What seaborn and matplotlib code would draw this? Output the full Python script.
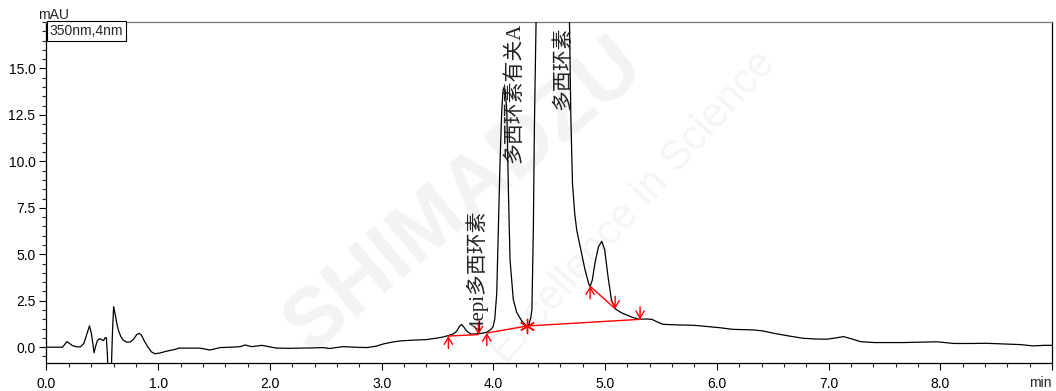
import matplotlib
matplotlib.use("Agg")
import matplotlib.pyplot as plt
import numpy as np
import pandas as pd
import seaborn as sns
from matplotlib.ticker import MultipleLocator, FixedLocator

# ---------------- data ----------------
time_min = [0.00, 0.05, 0.143, 0.163, 0.183, 0.203, 0.233, 0.274, 0.304, 0.334,
            0.364, 0.385, 0.40, 0.415, 0.425, 0.44, 0.455, 0.475, 0.496, 0.511,
            0.526, 0.536, 0.546, 0.556, 0.571, 0.584, 0.591, 0.601, 0.617, 0.632,
            0.647, 0.667, 0.687, 0.718, 0.748, 0.778, 0.808, 0.829, 0.849, 0.879,
            0.909, 0.939, 0.970, 1.010, 1.071, 1.151, 1.182, 1.282, 1.373, 1.464,
            1.555, 1.646, 1.737, 1.777, 1.838, 1.928, 2.059, 2.170, 2.271, 2.372,
            2.473, 2.534, 2.655, 2.756, 2.867, 2.947, 3.018, 3.099, 3.169, 3.280,
            3.401, 3.482, 3.543, 3.593, 3.644, 3.674, 3.694, 3.714, 3.734, 3.754,
            3.775, 3.805, 3.845, 3.886, 3.941, 3.976, 3.997, 4.012, 4.030, 4.045,
            4.060, 4.075, 4.086, 4.096, 4.106, 4.120, 4.135, 4.149, 4.178, 4.209,
            4.254, 4.299, 4.319, 4.335, 4.345, 4.358, 4.367, 4.382, 4.41, 4.46,
            4.51, 4.57, 4.63, 4.681, 4.693, 4.708, 4.728, 4.746, 4.774, 4.794,
            4.819, 4.837, 4.854, 4.866, 4.885, 4.910, 4.940, 4.970, 4.996, 5.026,
            5.056, 5.090, 5.147, 5.197, 5.248, 5.308, 5.359, 5.419, 5.470, 5.520,
            5.651, 5.793, 5.904, 6.025, 6.146, 6.327, 6.408, 6.509, 6.630, 6.771,
            6.892, 6.983, 7.064, 7.134, 7.205, 7.286, 7.407, 7.538, 7.669, 7.821,
            7.972, 8.123, 8.275, 8.416, 8.577, 8.719, 8.830, 8.930, 9.00]
signal_mau = [0.00, 0.00, 0.00, 0.15, 0.30, 0.22, 0.08, 0.02, 0.02, 0.20,
              0.75, 1.15, 0.80, 0.20, -0.30, 0.05, 0.35, 0.46, 0.40, 0.36,
              0.52, 0.50, -0.50, -3.0, -3.0, -0.50, 0.90, 2.18, 1.70, 1.20,
              0.85, 0.55, 0.38, 0.27, 0.28, 0.42, 0.68, 0.75, 0.65, 0.30,
              0.00, -0.25, -0.35, -0.32, -0.22, -0.12, -0.05, -0.05, -0.05, -0.15,
              -0.02, 0.00, 0.03, 0.12, 0.03, 0.10, -0.05, -0.06, -0.05, -0.04,
              -0.02, -0.07, 0.03, 0.00, -0.02, 0.05, 0.18, 0.28, 0.34, 0.38,
              0.41, 0.48, 0.54, 0.62, 0.72, 0.88, 1.10, 1.22, 1.10, 0.92,
              0.80, 0.70, 0.72, 0.74, 0.80, 0.95, 1.10, 1.50, 2.90, 6.50,
              10.07, 12.75, 13.80, 14.00, 13.80, 12.75, 8.30, 4.70, 2.57, 1.87,
              1.41, 1.14, 1.25, 1.60, 2.03, 6.50, 11.85, 17.50, 35.0, 55.0,
              60.0, 50.0, 32.0, 17.50, 12.50, 8.80, 7.20, 6.30, 5.50, 4.90,
              4.20, 3.80, 3.40, 3.28, 3.60, 4.55, 5.40, 5.70, 5.25, 3.80,
              2.57, 2.07, 1.85, 1.72, 1.60, 1.50, 1.52, 1.50, 1.35, 1.23,
              1.20, 1.18, 1.12, 1.05, 0.96, 0.93, 0.88, 0.75, 0.62, 0.48,
              0.44, 0.43, 0.50, 0.57, 0.45, 0.30, 0.25, 0.25, 0.25, 0.27,
              0.29, 0.20, 0.20, 0.21, 0.17, 0.14, 0.07, 0.10, 0.10]

# integration baselines (red)
base_seg1_t = [3.597, 3.866]
base_seg1_y = [0.60, 0.68]
base_seg2_t = [3.941, 4.299, 5.313]
base_seg2_y = [0.76, 1.14, 1.50]
base_seg3_t = [4.866, 5.090]
base_seg3_y = [3.28, 2.07]

peak_start_t = [3.597, 3.941, 4.866]
peak_start_y = [0.60, 0.76, 3.28]
peak_end_t = [3.866, 5.090, 5.313]
peak_end_y = [0.68, 2.07, 1.50]
shared_t = [4.299]
shared_y = [1.14]

peak_names = ["4epi多西环素", "多西环素有关A", "多西环素"]
label_t = [3.854, 4.19, 4.633]
label_y = [0.93, 9.9, 12.76]

x_major = [0, 1, 2, 3, 4, 5, 6, 7, 8, 9]
x_labels = ["0.0", "1.0", "2.0", "3.0", "4.0", "5.0", "6.0", "7.0", "8.0", ""]
y_major = [0.0, 2.5, 5.0, 7.5, 10.0, 12.5, 15.0]
y_labels = ["0.0", "2.5", "5.0", "7.5", "10.0", "12.5", "15.0"]

# ---------------- style ----------------
sns.set_theme(style="ticks")
plt.rcParams["font.family"] = ["Liberation Sans", "Noto Sans CJK SC", "DejaVu Sans"]

fig = plt.figure(figsize=(10.56, 3.91), dpi=100, facecolor="white")
ax = fig.add_axes([0.04403, 0.07161, 0.95218, 0.87212])
ax.patch.set_alpha(0.0)

# faint watermark behind the axes
fig.text(0.44, 0.50, "SHIMADZU", fontsize=60, fontweight="bold", color="#f3f3f3",
         rotation=40, ha="center", va="center", zorder=-5)
fig.text(0.60, 0.47, "Excellence in Science", fontsize=30, color="#f5f5f5",
         rotation=48, ha="center", va="center", zorder=-5)

df = pd.DataFrame({"t": time_min, "mAU": signal_mau})
sns.lineplot(data=df, x="t", y="mAU", ax=ax, color="black", lw=0.9,
             estimator=None, sort=False, zorder=3)

for st, sy in [(base_seg1_t, base_seg1_y), (base_seg2_t, base_seg2_y), (base_seg3_t, base_seg3_y)]:
    sns.lineplot(x=st, y=sy, ax=ax, color="red", lw=1.0, estimator=None, sort=False, zorder=4)

arrow_kw = dict(arrowstyle="->,head_length=0.5,head_width=0.3", color="red", lw=1.0,
                shrinkA=0, shrinkB=0, mutation_scale=10)
for t, y in zip(peak_start_t, peak_start_y):
    ax.annotate("", xy=(t, y), xytext=(0, -9), textcoords="offset points",
                arrowprops=arrow_kw, zorder=5)
for t, y in zip(peak_end_t, peak_end_y):
    ax.annotate("", xy=(t, y), xytext=(0, 9), textcoords="offset points",
                arrowprops=arrow_kw, zorder=5)
ax.plot(shared_t, shared_y, marker=(6, 2, 0), ms=11, mew=1.0, color="red",
        ls="none", zorder=5)

for name, t, y in zip(peak_names, label_t, label_y):
    ax.text(t, y, name, rotation=90, ha="center", va="bottom", fontsize=15,
            family=["Liberation Serif", "Noto Sans CJK SC", "DejaVu Sans"],
            color="#222222", zorder=6)

# axes
ax.set_xlim(0, 9.0)
ax.set_ylim(-0.85, 17.5)
ax.xaxis.set_major_locator(FixedLocator(x_major))
ax.set_xticklabels(x_labels)
ax.xaxis.set_minor_locator(MultipleLocator(0.2))
ax.yaxis.set_major_locator(FixedLocator(y_major))
ax.set_yticklabels(y_labels)
ax.yaxis.set_minor_locator(MultipleLocator(0.5))
ax.tick_params(axis="both", which="major", direction="out", length=5, width=0.8,
               labelsize=10, colors="black")
ax.tick_params(axis="both", which="minor", direction="out", length=3, width=0.8)
ax.tick_params(axis="x", which="major", pad=5)
ax.tick_params(axis="y", which="major", pad=3)
ax.set_xlabel("")
ax.set_ylabel("")
for side in ["left", "bottom", "right"]:
    ax.spines[side].set_visible(True)
    ax.spines[side].set_color("black")
    ax.spines[side].set_linewidth(0.9)
ax.spines["top"].set_visible(True)
ax.spines["top"].set_color("#777777")
ax.spines["top"].set_linewidth(0.9)

ax.text(-0.008, 1.0, "mAU", transform=ax.transAxes, ha="left", va="bottom", fontsize=10)
ax.text(1.0, -0.037, "min", transform=ax.transAxes, ha="right", va="top", fontsize=10)
ax.text(0.003, 0.994, "350nm,4nm", transform=ax.transAxes, ha="left", va="top",
        fontsize=10, zorder=7,
        bbox=dict(boxstyle="square,pad=0.2", fc="white", ec="black", lw=0.8))

fig.savefig("out.png", dpi=100, facecolor="white")
